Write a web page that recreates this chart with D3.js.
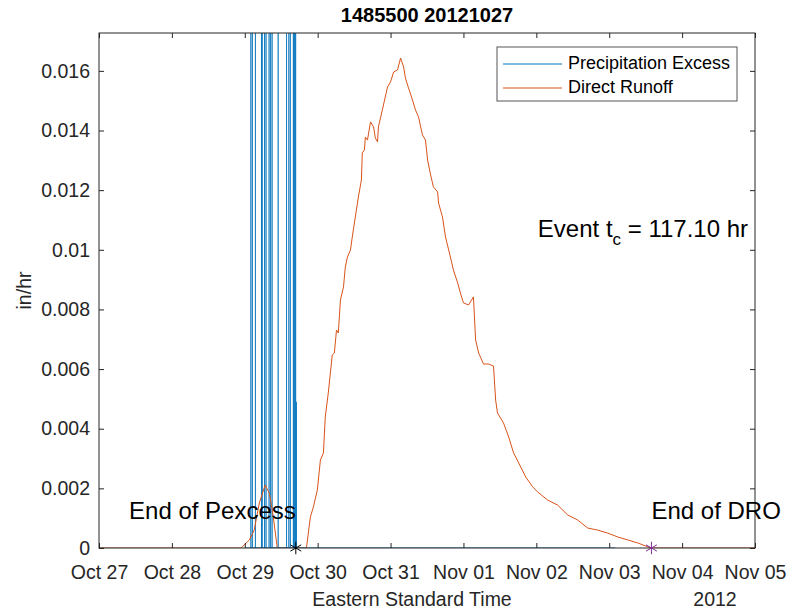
<!DOCTYPE html>
<html><head><meta charset="utf-8">
<script src="https://cdn.jsdelivr.net/npm/d3@7"></script>
<style>
body{margin:0;background:#fff;}
text{font-family:"Liberation Sans",Arial,Helvetica,sans-serif;fill:#262626;}
</style></head>
<body><svg id="c" width="788" height="613"></svg>
<script>
// ---- data (hours since 2012-10-27 00:00 EST) ----
const titleText = "1485500 20121027";
const tickDates = ["2012-10-27","2012-10-28","2012-10-29","2012-10-30","2012-10-31","2012-11-01","2012-11-02","2012-11-03","2012-11-04","2012-11-05"];
const yTicks = [0,0.002,0.004,0.006,0.008,0.01,0.012,0.014,0.016];
const yMax = 0.01727;
const runoffHours = [0,46.8,49.5,51.1,52.8,54.7,56.1,57.4,58.7,68.3,69.6,70.6,71.9,72.9,73.9,74.5,75.5,76.8,77.5,78.2,78.8,79.5,80.5,81.1,81.8,82.8,83.4,84.4,85.4,86.4,86.7,87.4,87.7,88.4,89.4,90.4,91.0,91.7,92.0,93.3,95.0,96.0,97.0,98.3,99.3,100.3,100.9,101.9,103.2,104.2,105.2,106.5,107.5,108.2,109.2,110.1,111.5,111.8,113.1,114.1,115.7,116.7,118.1,119.0,120.0,121.7,123.3,124.0,125.0,126.6,128.3,129.9,130.6,131.2,133.2,134.9,136.5,138.2,140.5,142.8,144.4,147.7,151.0,154.3,157.6,160.9,164.2,167.5,170.8,174.1,177.4,181.7,216];
const runoffValues = [0,0,0.00027,0.0006,0.00151,0.00211,0.00184,0.00104,0,0,0.00104,0.00138,0.00195,0.00295,0.00319,0.00439,0.0052,0.00647,0.00654,0.00731,0.00721,0.00832,0.00875,0.00942,0.00976,0.00999,0.01043,0.0111,0.01177,0.01234,0.01325,0.01335,0.01378,0.01368,0.01429,0.01412,0.01375,0.01362,0.01412,0.01469,0.01546,0.01563,0.01596,0.01603,0.01643,0.01613,0.01576,0.01543,0.01503,0.01469,0.01446,0.01385,0.01368,0.01301,0.01251,0.01211,0.01194,0.01157,0.0111,0.01043,0.00976,0.00932,0.00889,0.00855,0.00822,0.00815,0.00842,0.00698,0.00654,0.00617,0.00617,0.0061,0.00496,0.00453,0.00419,0.00372,0.00319,0.00285,0.00238,0.00205,0.00188,0.00161,0.00144,0.00111,0.00094,0.00067,0.0006,0.0005,0.00037,0.00027,0.00017,0,0];
const precipRange = [48, 170];
const precipHours = [50.0,50.5,51.5,53.5,53.75,54.5,55.0,56.0,56.5,57.0,59.0,61.75,62.5,63.0,64.0,64.25,64.5,64.75,65.0];
const precipValues = [0.031,0.024,0.046,0.028,0.035,0.052,0.027,0.044,0.038,0.061,0.057,0.026,0.033,0.029,0.041,0.036,0.048,0.055,0.0049];
const endPexcessHour = 64.8;
const endDROHour = 181.9;
const tcHours = 117.10;

// ---- setup ----
const W=788,H=613, L=99, R=755, T=33, B=548;
const base = Date.UTC(2012,9,27);
const toDate = h => new Date(base + h*3600e3);
const svg = d3.select("#c");
const x = d3.scaleUtc().domain([toDate(0), toDate(216)]).range([L,R]);
const y = d3.scaleLinear().domain([0,yMax]).range([B,T]);
const AX="#262626";
const blue="#0072BD", orange="#D95319", purple="#7E2F8E";
const FS = 19.5;

svg.append("defs").append("clipPath").attr("id","clip").append("rect")
  .attr("x",L).attr("y",T).attr("width",R-L).attr("height",B-T);

const plot = svg.append("g").attr("clip-path","url(#clip)");

// precipitation spikes
const spikePts = [];
precipHours.forEach((h,i)=>{ spikePts.push([h,0],[h,precipValues[i]],[h,0]); });
const line = d3.line().x(d=>x(toDate(d[0]))).y(d=>y(d[1]));
plot.append("path").datum(spikePts).attr("d",line)
  .attr("fill","none").attr("stroke",blue).attr("stroke-width",0.7);

// runoff
plot.append("path").datum(runoffHours.map((h,i)=>[h,runoffValues[i]])).attr("d",line)
  .attr("fill","none").attr("stroke",orange).attr("stroke-width",1);

// precipitation baseline (zeros)
plot.append("path").datum([[precipRange[0],0],[precipRange[1],0]]).attr("d",line)
  .attr("fill","none").attr("stroke",blue).attr("stroke-width",1.2);

// axes
const xTicks = tickDates.map(s=>new Date(s+"T00:00:00Z"));
const fmt = d3.utcFormat("%b %d");
const gx = svg.append("g").attr("transform",`translate(0,${B})`)
  .call(d3.axisBottom(x).tickValues(xTicks).tickFormat(fmt).tickSize(-5).tickPadding(17));
const gxt = svg.append("g").attr("transform",`translate(0,${T})`)
  .call(d3.axisTop(x).tickValues(xTicks).tickFormat("").tickSize(-5));
const gy = svg.append("g").attr("transform",`translate(${L},0)`)
  .call(d3.axisLeft(y).tickValues(yTicks).tickFormat(d3.format("~g")).tickSize(-5).tickPadding(9));
const gyr = svg.append("g").attr("transform",`translate(${R},0)`)
  .call(d3.axisRight(y).tickValues(yTicks).tickFormat("").tickSize(-5));
[gx,gxt,gy,gyr].forEach(g=>{
  g.selectAll(".domain").remove();
  g.selectAll("line").attr("stroke",AX);
  g.selectAll("text").attr("font-size",FS).attr("fill",AX)
    .attr("font-family","'Liberation Sans',Arial,Helvetica,sans-serif");
});
svg.append("rect").attr("x",L).attr("y",T).attr("width",R-L).attr("height",B-T)
  .attr("fill","none").attr("stroke",AX).attr("stroke-width",1);

// markers
const ast = d3.symbol().type(d3.symbolAsterisk).size(110);
svg.append("path").attr("d",ast).attr("transform",`translate(${x(toDate(endPexcessHour))},${y(0)})`)
  .attr("fill","none").attr("stroke","#000").attr("stroke-width",1);
svg.append("path").attr("d",ast).attr("transform",`translate(${x(toDate(endDROHour))},${y(0)})`)
  .attr("fill","none").attr("stroke",purple).attr("stroke-width",1);

// annotations
svg.append("text").attr("x",x(toDate(endPexcessHour))).attr("y",y(0.0012))
  .attr("text-anchor","end").attr("dominant-baseline","middle").attr("font-size",24)
  .style("fill","#000").text("End of Pexcess");
svg.append("text").attr("x",x(toDate(endDROHour))).attr("y",y(0.0012))
  .attr("text-anchor","start").attr("dominant-baseline","middle").attr("font-size",24)
  .style("fill","#000").text("End of DRO");
const ev = svg.append("text").attr("x",x(toDate(144.5))).attr("y",y(0.0107)+8)
  .attr("font-size",24).style("fill","#000");
ev.append("tspan").text("Event t");
ev.append("tspan").attr("dy",8).attr("font-size",17).text("c");
ev.append("tspan").attr("dy",-8).text(` = ${tcHours.toFixed(2)} hr`);

// title & labels
svg.append("text").attr("x",(L+R)/2).attr("y",22).attr("text-anchor","middle")
  .attr("font-size",20).attr("font-weight","bold").style("fill","#000").text(titleText);
svg.append("text").attr("x",412).attr("y",606).attr("text-anchor","middle")
  .attr("font-size",FS).text("Eastern Standard Time");
svg.append("text").attr("x",715).attr("y",606).attr("text-anchor","middle")
  .attr("font-size",FS).text("2012");
svg.append("text").attr("transform",`translate(31,${(T+B)/2}) rotate(-90)`)
  .attr("text-anchor","middle").attr("font-size",FS).text("in/hr");

// legend
const lg = svg.append("g");
lg.append("rect").attr("x",497).attr("y",47).attr("width",240).attr("height",54)
  .attr("fill","#fff").attr("stroke","#555").attr("stroke-width",1);
[["Precipitation Excess",blue,64],["Direct Runoff",orange,88]].forEach(([t,c,yy])=>{
  lg.append("line").attr("x1",503).attr("x2",562).attr("y1",yy).attr("y2",yy)
    .attr("stroke",c).attr("stroke-width",1);
  lg.append("text").attr("x",568).attr("y",yy).attr("dominant-baseline","middle")
    .attr("font-size",18).style("fill","#000").text(t);
});
</script></body></html>
